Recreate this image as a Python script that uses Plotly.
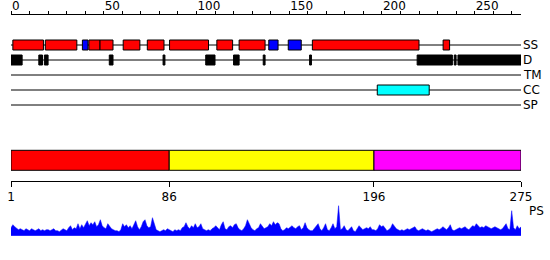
import plotly.graph_objects as go

# ---------------- data ----------------
seq_len = 275
track_names = ["SS", "D", "TM", "CC", "SP"]

helix_start = [1, 18.5, 42, 48, 60.5, 73.5, 85.5, 111, 123, 162.5, 233]
helix_end = [17.5, 35.5, 48, 55, 69.5, 82.5, 106.5, 119.5, 137, 220, 236.5]
strand_start = [38.5, 139, 149.5]
strand_end = [41.5, 144, 156.5]
dis_start = [0, 15, 18, 53, 82, 105, 120, 136, 161, 219, 239, 241]
dis_end = [6, 17, 20, 55, 83, 110, 123, 137, 162, 238, 240, 275]
cc_start = [197.5]
cc_end = [225.5]

domain_start = [1, 86, 196]
domain_end = [86, 196, 275]
domain_colors = ["#ff0000", "#ffff00", "#ff00ff"]
domain_ticks = [1, 86, 196, 275]

top_ticks = list(range(0, 271, 10))
top_labels = [str(v) if v % 50 == 0 else "" for v in top_ticks]

ps = [
    8, 11, 9, 7, 6, 7, 6, 5, 7, 6,
    5, 7, 6, 5, 6, 7, 5, 6, 5, 6,
    6, 5, 6, 7, 5, 5, 4, 6, 7, 6,
    5, 8, 10, 6, 8, 7, 12, 7, 11, 8,
    12, 15, 10, 13, 11, 14, 9, 11, 16, 10,
    8, 7, 12, 9, 7, 6, 5, 5, 4, 6,
    12, 9, 11, 8, 10, 7, 12, 15, 9, 6,
    9, 14, 16, 10, 8, 9, 18, 12, 6, 5,
    4, 5, 6, 5, 7, 6, 5, 4, 6, 5,
    6, 5, 8, 9, 13, 9, 7, 10, 8, 12,
    8, 9, 12, 7, 6, 5, 6, 5, 7, 8,
    10, 8, 6, 11, 14, 7, 6, 9, 10, 8,
    11, 12, 8, 6, 5, 7, 10, 16, 11, 8,
    6, 5, 7, 8, 12, 10, 7, 8, 9, 12,
    10, 14, 11, 13, 12, 7, 5, 6, 8, 7,
    9, 10, 8, 7, 9, 10, 6, 8, 13, 8,
    6, 5, 5, 7, 9, 12, 7, 5, 8, 12,
    6, 5, 8, 12, 7, 9, 30, 6, 7, 10,
    6, 5, 7, 9, 5, 4, 7, 10, 8, 6,
    7, 8, 7, 9, 6, 6, 5, 7, 11, 9,
    10, 8, 5, 6, 8, 12, 9, 7, 6, 5,
    6, 5, 6, 7, 6, 7, 8, 9, 6, 5,
    6, 7, 6, 5, 6, 5, 4, 5, 6, 7,
    6, 7, 9, 7, 6, 8, 11, 6, 5, 6,
    7, 8, 7, 8, 9, 7, 6, 8, 10, 9,
    12, 10, 8, 9, 8, 10, 9, 8, 7, 8,
    9, 8, 7, 6, 7, 9, 12, 7, 6, 25,
    8, 6, 10, 7, 9,
]
residues = list(range(1, seq_len + 1))

# ---------------- figure ----------------
W, H = 550, 260
FONT = "DejaVu Sans"
x_dom = [11 / W, 521 / W]


def pyf(px):
    return 1 - px / H


fig = go.Figure()


def track_bars(starts, ends, track, color):
    fig.add_trace(go.Bar(
        orientation="h",
        base=starts,
        x=[e - s for s, e in zip(starts, ends)],
        y=[track_names.index(track)] * len(starts),
        width=0.667,
        marker=dict(color=color, line=dict(color="black", width=1)),
        xaxis="x", yaxis="y", hoverinfo="skip",
    ))


track_bars(helix_start, helix_end, "SS", "#ff0000")
track_bars(strand_start, strand_end, "SS", "#0000ff")
track_bars(dis_start, dis_end, "D", "#000000")
track_bars(cc_start, cc_end, "CC", "#00ffff")

# domain bar
for s, e, c in zip(domain_start, domain_end, domain_colors):
    fig.add_trace(go.Bar(
        orientation="h", base=[s], x=[e - s], y=[0.5], width=1,
        marker=dict(color=c, line=dict(color="black", width=1)),
        xaxis="x2", yaxis="y2", hoverinfo="skip",
    ))

# PS profile
fig.add_trace(go.Scatter(
    x=residues, y=ps, mode="lines", fill="tozeroy",
    line=dict(color="#0000ff", width=0.5), fillcolor="#0000ff",
    xaxis="x2", yaxis="y3", hoverinfo="skip",
))

shapes = []
for i, name in enumerate(track_names):
    shapes.append(dict(type="line", xref="x", yref="y", x0=0, x1=seq_len,
                       y0=i, y1=i, line=dict(color="black", width=1),
                       layer="below"))
shapes.append(dict(type="line", xref="x2", yref="y3", x0=1, x1=seq_len + 4.5,
                   y0=0, y1=0, line=dict(color="#0000ff", width=1),
                   layer="below"))

annotations = []
for i, name in enumerate(track_names):
    annotations.append(dict(x=seq_len, y=i, xref="x", yref="y", text=name,
                            xanchor="left", yanchor="middle", xshift=0,
                            showarrow=False,
                            font=dict(family=FONT, size=12, color="black")))
annotations.append(dict(x=seq_len, y=0.69, xref="x2", yref="y3 domain",
                        text="PS", xanchor="left", yanchor="middle", xshift=6,
                        showarrow=False,
                        font=dict(family=FONT, size=12, color="black")))

fig.update_layout(
    width=W, height=H, autosize=False,
    margin=dict(l=0, r=0, t=0, b=0, pad=0, autoexpand=False),
    paper_bgcolor="white", plot_bgcolor="white",
    showlegend=False, barmode="overlay",
    font=dict(family=FONT, size=12, color="black"),
    shapes=shapes, annotations=annotations,
    xaxis=dict(domain=x_dom, range=[0, seq_len], side="top", anchor="y",
               automargin=False,
               showline=True, linecolor="black", linewidth=1,
               ticks="outside", ticklen=3, tickcolor="black", tickwidth=1,
               tickvals=top_ticks, ticktext=top_labels,
               ticklabelposition="outside right", ticklabelstandoff=-1,
               showgrid=False, zeroline=False,
               tickfont=dict(family=FONT, size=12, color="black")),
    yaxis=dict(domain=[pyf(120), pyf(15)], range=[5, -2], visible=False,
               automargin=False),
    xaxis2=dict(domain=x_dom, range=[1, seq_len], anchor="free",
                position=pyf(180.5), automargin=False,
                showline=True, linecolor="black", linewidth=1,
                ticks="outside", ticklen=5, tickcolor="black", tickwidth=1,
                tickvals=domain_ticks, ticktext=[str(v) for v in domain_ticks],
                showgrid=False, zeroline=False,
                tickfont=dict(family=FONT, size=12, color="black")),
    yaxis2=dict(domain=[pyf(172.3), pyf(148.3)], range=[-0.1, 1.1],
                visible=False, anchor="x2", automargin=False),
    yaxis3=dict(domain=[pyf(235.7), pyf(199.7)], range=[0, 36],
                visible=False, anchor="x2", automargin=False),
)

fig.write_html("out.html")
